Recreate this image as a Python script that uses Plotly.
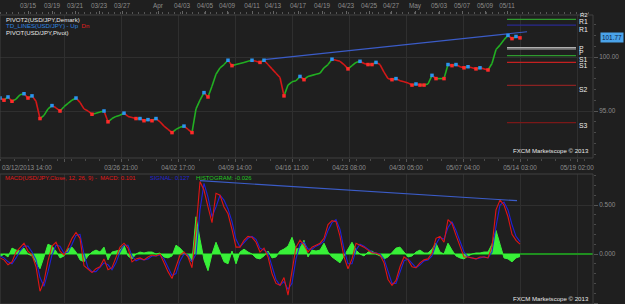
import plotly.graph_objects as go

# ---------------- data ----------------
price = [96.2, 96.0, 96.3, 95.9, 96.1, 96.5, 96.6, 96.2, 96.4, 95.9,
         94.3, 94.6, 95.2, 95.5, 95.3, 95.0, 95.4, 95.7, 96.0, 96.2,
         95.8, 95.2, 95.0, 94.7, 94.8, 94.9, 95.0, 94.0, 94.3, 94.5,
         94.6, 94.8, 94.5, 94.4, 94.3, 94.3, 94.1, 94.2, 94.1, 94.3,
         94.0, 93.6, 93.3, 93.0, 93.3, 93.5, 93.6, 93.3, 93.0, 95.2,
         96.0, 96.7, 96.3, 97.3, 98.4, 99.0, 99.3, 99.7, 99.2, 99.3,
         99.4, 99.5, 99.6, 99.7, 99.6, 99.5, 99.7, 99.3, 98.9, 98.5,
         98.1, 96.4, 97.4, 97.7, 97.8, 98.2, 97.9, 98.2, 98.3, 98.4,
         98.5, 99.0, 99.3, 99.8, 99.7, 99.6, 99.3, 98.9, 99.2, 99.5,
         99.6, 99.4, 99.3, 99.3, 99.5, 99.3, 98.6, 98.0, 97.9, 98.0,
         97.8, 97.7, 97.6, 97.4, 97.5, 97.4, 97.4, 97.5, 98.3, 98.0,
         98.0, 98.0, 99.3, 99.2, 99.3, 99.1, 99.0, 99.1, 99.0, 98.9,
         99.0, 98.9, 98.8, 99.4, 100.7, 101.1, 101.6, 102.0, 101.7, 101.9,
         101.77]

macd = [-0.04, -0.06, -0.11, -0.08, 0.02, 0.07, 0.11, 0.03, -0.01, -0.13,
        -0.38, -0.28, -0.07, 0.08, 0.12, 0.03, -0.01, 0.07, 0.16, 0.22,
        0.16, -0.12, -0.16, -0.19, -0.15, -0.13, -0.05, -0.16, -0.14, -0.04,
        0.07, 0.11, 0.06, -0.08, -0.05, -0.04, -0.06, -0.03, -0.01, -0.02,
        0.00, -0.09, -0.18, -0.25, -0.13, -0.01, 0.02, -0.03, -0.14, 0.25,
        0.74, 0.65, 0.48, 0.32, 0.62, 0.60, 0.48, 0.41, 0.25, 0.07,
        0.07, 0.14, 0.18, 0.17, 0.12, 0.02, 0.06, -0.03, -0.20, -0.30,
        -0.32, -0.24, -0.42, -0.17, 0.07, 0.14, 0.09, 0.02, 0.07, 0.09,
        0.11, 0.16, 0.30, 0.34, 0.33, 0.18, -0.03, -0.15, -0.05, 0.11,
        0.09, 0.07, 0.04, 0.01, 0.01, -0.01, -0.09, -0.26, -0.32, -0.27,
        -0.13, -0.03, -0.06, -0.13, -0.14, -0.09, -0.06, -0.05, 0.01, 0.16,
        0.18, 0.12, 0.35, 0.31, 0.19, 0.09, -0.03, -0.03, -0.04, -0.05,
        -0.03, -0.03, -0.04, 0.08, 0.45, 0.55, 0.50, 0.38, 0.20, 0.14,
        0.101]

signal = [-0.02, -0.04, -0.08, -0.10, -0.04, 0.03, 0.08, 0.08, 0.02, -0.06,
          -0.24, -0.33, -0.18, -0.01, 0.09, 0.08, 0.01, 0.02, 0.10, 0.19,
          0.20, 0.00, -0.14, -0.18, -0.18, -0.14, -0.09, -0.11, -0.16, -0.09,
          0.02, 0.09, 0.09, -0.02, -0.07, -0.05, -0.06, -0.05, -0.02, -0.02,
          -0.01, -0.05, -0.14, -0.22, -0.20, -0.07, 0.00, -0.01, -0.08, 0.00,
          0.45, 0.72, 0.58, 0.38, 0.48, 0.60, 0.55, 0.46, 0.33, 0.15,
          0.07, 0.11, 0.16, 0.18, 0.15, 0.06, 0.04, 0.01, -0.12, -0.26,
          -0.32, -0.28, -0.36, -0.30, -0.05, 0.10, 0.12, 0.05, 0.05, 0.08,
          0.10, 0.13, 0.24, 0.32, 0.35, 0.25, 0.05, -0.10, -0.10, 0.04,
          0.10, 0.08, 0.05, 0.02, 0.01, 0.00, -0.05, -0.18, -0.30, -0.30,
          -0.19, -0.07, -0.05, -0.10, -0.14, -0.11, -0.07, -0.06, -0.02, 0.10,
          0.17, 0.15, 0.27, 0.33, 0.24, 0.13, 0.02, -0.03, -0.04, -0.05,
          -0.04, -0.03, -0.04, 0.02, 0.28, 0.50, 0.53, 0.45, 0.30, 0.18,
          0.127]

histogram = [-0.03, 0.00, -0.03, 0.06, 0.04, 0.03, 0.06, 0.00, -0.02, -0.08,
             -0.15, -0.03, 0.10, 0.08, 0.03, -0.04, -0.02, 0.05, 0.07, 0.02,
             -0.06, -0.08, -0.02, 0.02, 0.04, 0.02, 0.07, -0.06, 0.02, 0.03,
             0.04, 0.09, -0.02, -0.05, 0.00, 0.02, 0.01, 0.02, 0.02, 0.00,
             0.01, -0.03, -0.04, -0.02, 0.09, 0.06, 0.02, -0.03, -0.08, 0.38,
             0.15, -0.06, -0.17, 0.00, 0.12, 0.02, -0.08, -0.10, 0.03, -0.10,
             0.02, 0.05, 0.02, 0.00, -0.04, -0.05, -0.02, 0.03, -0.04, -0.03,
             0.03, 0.05, 0.08, 0.17, 0.05, 0.06, 0.14, -0.03, 0.04, 0.03,
             0.04, 0.11, 0.02, -0.03, -0.06, -0.09, -0.02, 0.05, 0.12, 0.04,
             0.00, -0.02, 0.02, 0.03, 0.00, -0.02, -0.05, -0.03, 0.02, 0.06,
             0.07, 0.02, -0.03, -0.02, 0.02, 0.04, 0.01, 0.01, 0.05, 0.11,
             0.02, 0.00, 0.11, 0.04, -0.02, -0.04, -0.05, -0.02, 0.00, 0.01,
             0.01, 0.02, 0.02, 0.10, 0.24, 0.10, -0.04, -0.05, -0.08, -0.04,
             -0.026]

# trend lines (bar index, value)
price_trend_x = [66, 131.75]
price_trend_y = [99.75, 102.34]
macd_trend_x = [50, 129.25]
macd_trend_y = [0.748, 0.544]

pivot_levels = [103.49, 102.96, 100.86, 100.74, 100.12, 99.51, 97.38, 93.92]
pivot_names = ["R1", "R1", "P", "P", "S1", "S1", "S2", "S3"]
pivot_colors = ["#2f9a2f", "#2a2a90", "#b0b0b0", "#808080", "#2f9a2f", "#c42020", "#8a2222", "#7a1818"]
pivot_label_drop_px = [2.6, 4.3, 0.8, 3.2, 3.6, 3.7, 4.0, 3.3]
pivot_start, pivot_end = 126.75, 144.0

bottom_tick_vals = [16, 30.25, 44.5, 58.75, 73, 87.25, 101.5, 115.75, 130, 144.25]
bottom_tick_text = ["", "03/26 21:00", "04/02 17:00", "04/09 14:00", "04/16 11:00",
                    "04/23 08:00", "04/30 05:00", "05/07 04:00", "05/14 03:00", "05/19 02:00"]
first_date_label = "03/12/2013 14:00"

top_tick_vals = [7.0, 13.0, 18.75, 24.75, 30.5, 39.5, 45.5, 51.25, 56.75, 63, 68.25,
                 74.5, 80.5, 86.5, 92.25, 97.75, 103.75, 109.75, 115.5, 121.25, 126.75]
top_tick_text = ["03/15", "03/19", "03/21", "03/23", "03/27", "Apr", "04/03", "04/05",
                 "04/09", "04/11", "04/13", "04/17", "04/19", "04/23", "04/25", "04/27",
                 "May", "05/03", "05/07", "05/09", "05/11"]
marker_days = [0.75, 7, 9.75, 19, 24.5, 30.75, 36.5, 39.5, 45.5, 50.25, 53.75, 57, 63,
               68.5, 74.75, 80.5, 83.25, 86.5, 92.25, 98, 104, 109.75, 112.5, 115.5, 127]

last_price = 101.77
macd_header = "MACD(USD/JPY.Close, 12, 26, 9) -  MACD: 0.101"
signal_header = "SIGNAL: 0.127"
hist_header = "HISTOGRAM: -0.026"

# ---------------- geometry ----------------
W, H = 625, 304
PLOT_R_PX = 593
XR = PLOT_R_PX / W
X_RANGE = [0, PLOT_R_PX / 4.0]
P_TOP, P_BOT = 15, 158
M_TOP = 174
price_dom = [1 - P_BOT / H, 1 - P_TOP / H]
macd_dom = [0, 1 - M_TOP / H]
PX_PER_UNIT = 10.8
price_range = [100 - (P_BOT - 57) / PX_PER_UNIT, 100 + (57 - P_TOP) / PX_PER_UNIT]
macd_range = [-(H - 254) / 98.0, (254 - M_TOP) / 98.0]

FONT = "Liberation Sans"
FS = 6.4
HFS = 6.1
BG = "#1f1f1f"
GRID = "#2f2f2f"
FRAME = "#404040"

x = list(range(len(price)))

# up / down segments
ux, uy, dx, dy = [], [], [], []
for i in range(1, len(price)):
    if price[i] >= price[i - 1]:
        ux += [x[i - 1], x[i], None]; uy += [price[i - 1], price[i], None]
    else:
        dx += [x[i - 1], x[i], None]; dy += [price[i - 1], price[i], None]

hx, hy, lx, ly = [], [], [], []
for i in range(len(price)):
    prev_ = price[i - 1] if i > 0 else price[i]
    next_ = price[i + 1] if i < len(price) - 1 else price[i]
    if (price[i] > prev_ and price[i] >= next_) or (price[i] >= prev_ and price[i] > next_):
        hx.append(x[i]); hy.append(price[i])
    if (price[i] < prev_ and price[i] <= next_) or (price[i] <= prev_ and price[i] < next_):
        lx.append(x[i]); ly.append(price[i])

fig = go.Figure()

fig.add_trace(go.Scatter(x=price_trend_x, y=price_trend_y, mode="lines",
                         line=dict(color="#3b5cc8", width=1.2), hoverinfo="skip"))
fig.add_trace(go.Scatter(x=ux, y=uy, mode="lines", line=dict(color="#22b022", width=1.6)))
fig.add_trace(go.Scatter(x=dx, y=dy, mode="lines", line=dict(color="#d41818", width=1.6)))
fig.add_trace(go.Scatter(x=hx, y=hy, mode="markers",
                         marker=dict(symbol="square", size=3.5, color="#2a95f0")))
fig.add_trace(go.Scatter(x=lx, y=ly, mode="markers",
                         marker=dict(symbol="square", size=3.5, color="#ff2a2a")))

# pivot lines
for lvl, name, col in zip(pivot_levels, pivot_names, pivot_colors):
    fig.add_trace(go.Scatter(x=[pivot_start, pivot_end], y=[lvl, lvl], mode="lines",
                             line=dict(color=col, width=1.3 if name != "P" else 1.6),
                             hoverinfo="skip"))

# top axis day markers (above plot)
tri_y = price_range[1] + (P_TOP - 10) / PX_PER_UNIT
fig.add_trace(go.Scatter(x=marker_days, y=[tri_y] * len(marker_days), mode="markers",
                         xaxis="x3", yaxis="y", cliponaxis=False,
                         marker=dict(symbol="triangle-down", size=6, color="#d9a21c")))

# MACD panel
fig.add_trace(go.Scatter(x=x, y=histogram, mode="lines", fill="tozeroy",
                         fillcolor="#38f038", line=dict(color="#38f038", width=1),
                         xaxis="x2", yaxis="y2"))
fig.add_trace(go.Scatter(x=x, y=signal, mode="lines", line=dict(color="#2020d8", width=1.1),
                         xaxis="x2", yaxis="y2"))
fig.add_trace(go.Scatter(x=x, y=macd, mode="lines", line=dict(color="#e01515", width=1.1),
                         xaxis="x2", yaxis="y2"))
fig.add_trace(go.Scatter(x=macd_trend_x, y=macd_trend_y, mode="lines",
                         line=dict(color="#3b5cc8", width=1.2), xaxis="x2", yaxis="y2"))

shapes = [
    dict(type="line", xref="x2", yref="y2", x0=0, x1=X_RANGE[1], y0=0, y1=0,
         line=dict(color="#1f8f1f", width=2), layer="between"),
    dict(type="rect", xref="paper", yref="paper", x0=0, x1=XR, y0=price_dom[0], y1=price_dom[1],
         line=dict(color=FRAME, width=1)),
    dict(type="rect", xref="paper", yref="paper", x0=0, x1=XR, y0=macd_dom[0] - 0.01, y1=macd_dom[1],
         line=dict(color=FRAME, width=1)),
]

annotations = [
    dict(text="PIVOT2(USD/JPY,Demark)", x=4 / W, y=1 - 19.5 / H),
    dict(text="<span style='color:#2f86e0'>TD_LINES(USD/JPY) - Up</span>  <span style='color:#e02020'>Dn</span>",
         x=4 / W, y=1 - 25.8 / H),
    dict(text="PIVOT(USD/JPY,Pivot)", x=4 / W, y=1 - 32.3 / H),
    dict(text=macd_header, x=3 / W, y=1 - 177.5 / H,
         font=dict(family=FONT, size=5.9, color="#e01818")),
    dict(text=signal_header, x=148 / W, y=1 - 177.5 / H,
         font=dict(family=FONT, size=5.9, color="#2424d4")),
    dict(text=hist_header, x=194 / W, y=1 - 177.5 / H,
         font=dict(family=FONT, size=5.9, color="#22c422")),
    dict(text="FXCM Marketscope © 2013", x=591 / W, y=1 - 150.5 / H, xanchor="right"),
    dict(text="FXCM Marketscope © 2013", x=591 / W, y=1 - 298.5 / H, xanchor="right"),
    dict(text=first_date_label, x=0, y=1 - 167 / H, font=dict(family=FONT, size=FS, color="#8c8c8c")),
    dict(text=f"{last_price:.2f}", x=600 / W, xref="paper", y=last_price, yref="y", xanchor="left",
         yanchor="middle", bgcolor="#4aa3ea", borderpad=1,
         font=dict(family=FONT, size=FS, color="#0b1d45")),
    # R2 label sitting on the top edge of the price panel
    dict(text="R2", x=577.5 / W, y=1 - 15 / H, xanchor="left", yanchor="middle",
         font=dict(family=FONT, size=6.0, color="#eeeeee")),
]
for lvl, name, drop in zip(pivot_levels, pivot_names, pivot_label_drop_px):
    annotations.append(dict(text=name, x=pivot_end + 0.3, xref="x", y=lvl, yref="y",
                            xanchor="left", yanchor="middle", yshift=-drop,
                            font=dict(family=FONT, size=6.8, color="#eeeeee")))
for a in annotations:
    a.setdefault("xref", "paper")
    a.setdefault("yref", "paper")
    a.setdefault("xanchor", "left")
    a.setdefault("yanchor", "middle")
    a.setdefault("showarrow", False)
    a.setdefault("font", dict(family=FONT, size=HFS, color="#e8e8e8"))

axis_font = dict(family=FONT, size=FS, color="#8c8c8c")

fig.update_layout(
    width=W, height=H, margin=dict(l=0, r=0, t=0, b=0),
    paper_bgcolor=BG, plot_bgcolor=BG, showlegend=False,
    font=dict(family=FONT, size=FS, color="#8c8c8c"),
    shapes=shapes, annotations=annotations,
    xaxis=dict(domain=[0, XR], range=X_RANGE, anchor="y", tickvals=bottom_tick_vals,
               ticktext=bottom_tick_text, showgrid=True, gridcolor=GRID, gridwidth=1,
               zeroline=False, ticks="outside", ticklen=3, tickcolor="#555",
               tickfont=axis_font, showline=False,
               minor=dict(dtick=3.5625, ticklen=2, tickcolor="#4a4a4a", showgrid=False)),
    xaxis2=dict(domain=[0, XR], range=X_RANGE, anchor="y2", tickvals=bottom_tick_vals,
                showticklabels=False, showgrid=True, gridcolor=GRID, zeroline=False),
    xaxis3=dict(overlaying="x", side="top", anchor="y", range=X_RANGE, tickvals=top_tick_vals,
                ticktext=top_tick_text, showgrid=False, zeroline=False, ticks="outside",
                ticklen=3, tickcolor="#666", tickfont=axis_font,
                minor=dict(dtick=1.5, ticklen=2, tickcolor="#555")),
    yaxis=dict(domain=price_dom, range=price_range, side="right", anchor="x", dtick=5,
               tickformat=".2f", showgrid=True, gridcolor=GRID, zeroline=False,
               ticks="outside", ticklen=4, tickcolor="#555", tickfont=axis_font,
               minor=dict(dtick=1, ticklen=2, tickcolor="#4a4a4a")),
    yaxis2=dict(domain=macd_dom, range=macd_range, side="right", anchor="x2", dtick=0.5,
                tickformat=".3f", showgrid=True, gridcolor=GRID, zeroline=False,
                ticks="outside", ticklen=4, tickcolor="#555", tickfont=axis_font,
                minor=dict(dtick=0.1, ticklen=2, tickcolor="#4a4a4a")),
)

fig.write_html("out.html")
